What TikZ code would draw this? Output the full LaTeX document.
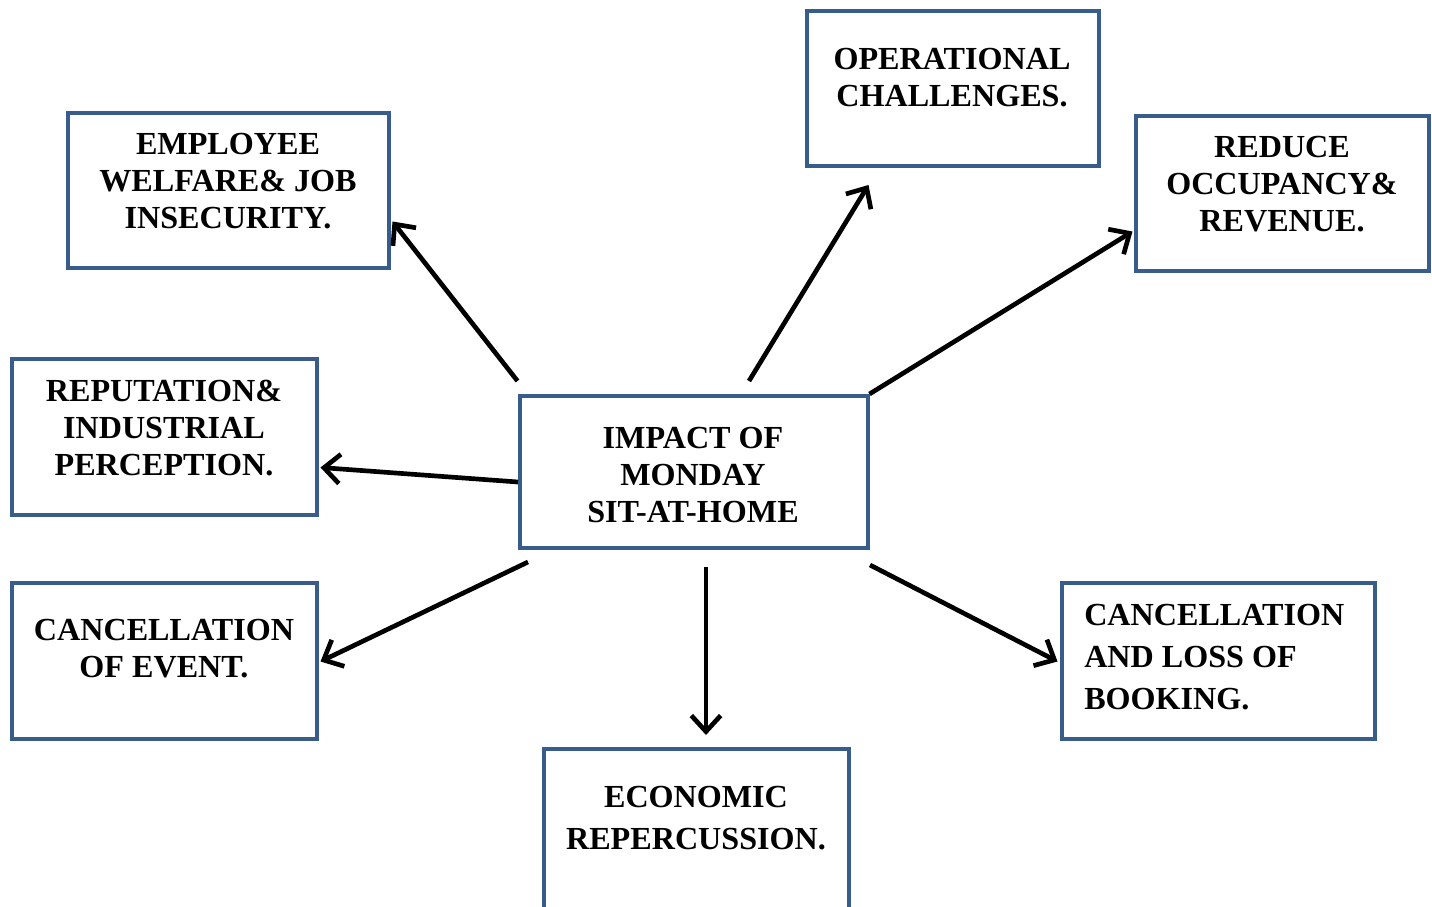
\documentclass[tikz,border=0pt]{standalone}
\usepackage{fontspec}
\setmainfont{Liberation Serif}
\usetikzlibrary{arrows.meta,calc}
\definecolor{boxblue}{RGB}{56,93,138}
\tikzset{
  box/.style={draw=boxblue, line width=3pt, rectangle, inner sep=0pt},
  txt/.style={font=\bfseries\fontsize{24.1}{27.75}\selectfont, align=center, inner sep=0pt},
  txtwide/.style={font=\bfseries\fontsize{24.1}{31.5}\selectfont, inner sep=0pt},
  arr/.style={line width=3.5pt, -{Straight Barb[length=12pt, width=22pt, line width=3.5pt]}}
}
\begin{document}
\begin{tikzpicture}[x=0.75pt, y=-0.75pt]
\clip (0,0) rectangle (1432,907);
\fill[white] (0,0) rectangle (1432,907);
% boxes (outer pixel extents minus line width)
\node[box, minimum width=321*0.75pt, minimum height=155*0.75pt] (emp) at (228,190.5) {};
\node[box, minimum width=292*0.75pt, minimum height=155*0.75pt] (op) at (952.5,88.5) {};
\node[box, minimum width=293*0.75pt, minimum height=155*0.75pt] (red) at (1282,193.5) {};
\node[box, minimum width=305*0.75pt, minimum height=156*0.75pt] (rep) at (164,437) {};
\node[box, minimum width=348*0.75pt, minimum height=152*0.75pt] (ctr) at (693.5,472) {};
\node[box, minimum width=305*0.75pt, minimum height=156*0.75pt] (evt) at (164,661) {};
\node[box, minimum width=305*0.75pt, minimum height=163*0.75pt] (eco) at (696,830.5) {};
\node[box, minimum width=313*0.75pt, minimum height=156*0.75pt] (book) at (1218,661) {};
% texts
\node[txt] (tEmp) at (228,181) {EMPLOYEE\\WELFARE\& JOB\\INSECURITY.};
\node[txt] (tOp) at (952,78) {OPERATIONAL\\CHALLENGES.};
\node[txt] (tRed) at (1282,184) {REDUCE\\OCCUPANCY\&\\REVENUE.};
\node[txt] (tRep) at (164,428) {REPUTATION\&\\INDUSTRIAL\\PERCEPTION.};
\node[txt] (tCtr) at (693,475) {IMPACT OF\\MONDAY\\SIT-AT-HOME};
\node[txt] (tEvt) at (164,649) {CANCELLATION\\OF EVENT.};
\node[txtwide, align=center] (tEco) at (696,818) {ECONOMIC\\REPERCUSSION.};
\node[txtwide, align=left, anchor=west] (tBook) at (1084,657) {CANCELLATION\\AND LOSS OF\\BOOKING.};
% arrow start points
\coordinate (s1) at ($(ctr.north west)+(0,-13)$);
\coordinate (s2) at (749,381);
\coordinate (s3) at (ctr.north east);
\coordinate (s4) at (518,482);
\coordinate (s5) at (528,562);
\coordinate (s6) at (706,567);
\coordinate (s7) at (870,565);
\draw[arr] (s1) -- ($(emp.east)+(2,31)$);
\draw[arr] (s2) -- ($(op.south)+(-84,17)$);
\draw[arr] (s3) -- ($(red.west)+(-1,38)$);
\draw[arr] (s4) -- ($(rep.east)+(2,30.5)$);
\draw[arr] (s5) -- ($(evt.east)+(2,0.5)$);
\draw[arr] (s6) -- ($(eco.north)+(10,-12)$);
\draw[arr] (s7) -- ($(book.west)+(-2,0.5)$);
\end{tikzpicture}
\end{document}
